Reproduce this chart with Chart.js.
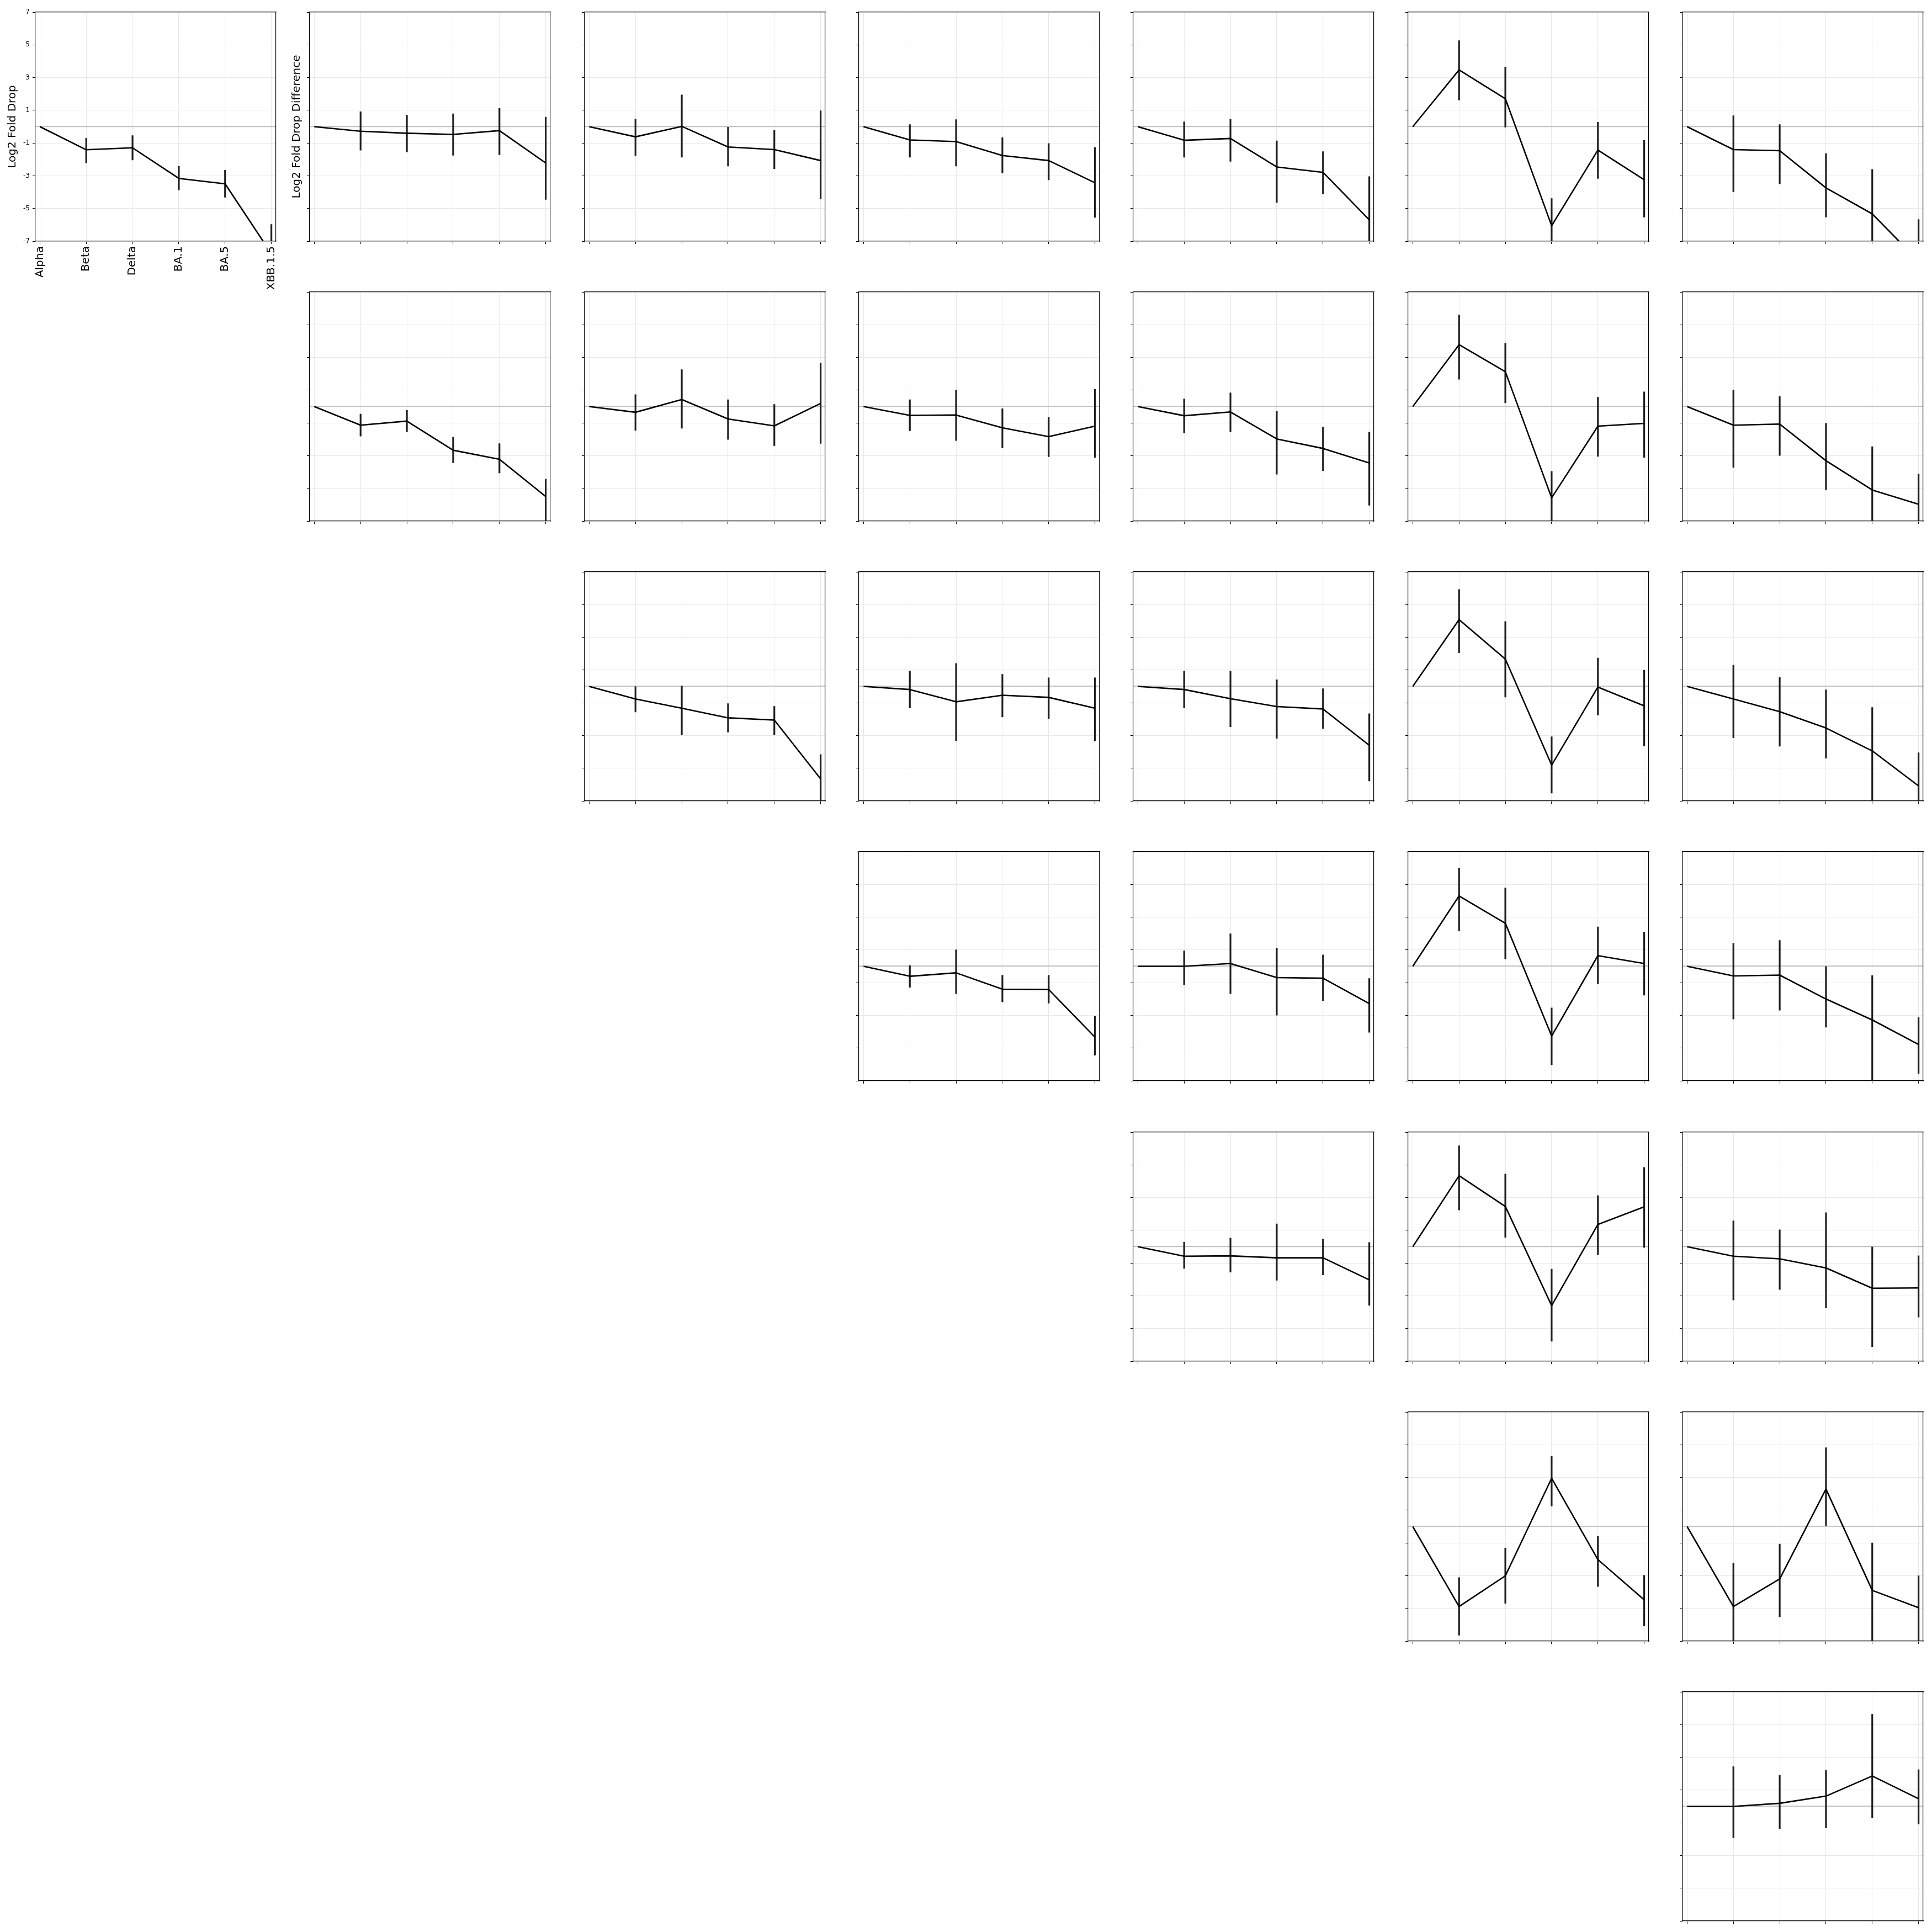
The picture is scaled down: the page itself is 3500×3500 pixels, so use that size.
<!DOCTYPE html>
<html>
<head>
<meta charset="utf-8">
<script src="https://cdn.jsdelivr.net/npm/chart.js@4.4.1/dist/chart.umd.min.js"></script>
<style>
html, body { margin: 0; padding: 0; background: #ffffff; }
#fig { position: relative; width: 3500px; height: 3500px; background: #ffffff; overflow: hidden; }
#fig canvas { position: absolute; }
</style>
</head>
<body>
<div id="fig"></div>
<script>
// ---------------- data ----------------
const variants = ['Alpha', 'Beta', 'Delta', 'BA.1', 'BA.5', 'XBB.1.5'];
const yTickValues = [-7, -5, -3, -1, 1, 3, 5, 7];
const referenceLevel = 0;

// panel grid position (row, column), row-major over the upper triangle
const panelRows = [0,0,0,0,0,0,0, 1,1,1,1,1,1, 2,2,2,2,2, 3,3,3,3, 4,4,4, 5,5, 6];
const panelCols = [0,1,2,3,4,5,6, 1,2,3,4,5,6, 2,3,4,5,6, 3,4,5,6, 4,5,6, 5,6, 6];

// line values per panel
const panelValues = [
  [0, -1.41, -1.29, -3.16, -3.49, -7.76],
  [0, -0.28, -0.40, -0.47, -0.24, -2.22],
  [0, -0.62,  0.02, -1.24, -1.40, -2.07],
  [0, -0.81, -0.91, -1.76, -2.07, -3.43],
  [0, -0.83, -0.72, -2.46, -2.79, -5.70],
  [0,  3.47,  1.71, -6.05, -1.43, -3.24],
  [0, -1.40, -1.47, -3.74, -5.33, -8.21],
  [0, -1.14, -0.89, -2.67, -3.22, -5.50],
  [0, -0.35,  0.43, -0.76, -1.18,  0.19],
  [0, -0.54, -0.52, -1.30, -1.84, -1.20],
  [0, -0.56, -0.33, -1.98, -2.56, -3.45],
  [0,  3.78,  2.13, -5.58, -1.20, -1.03],
  [0, -1.14, -1.07, -3.31, -5.10, -5.97],
  [0, -0.77, -1.33, -1.92, -2.06, -5.65],
  [0, -0.19, -0.94, -0.54, -0.67, -1.33],
  [0, -0.19, -0.75, -1.23, -1.38, -3.60],
  [0,  4.08,  1.67, -4.81, -0.04, -1.19],
  [0, -0.77, -1.54, -2.54, -3.94, -6.08],
  [0, -0.61, -0.40, -1.40, -1.42, -4.33],
  [0,  0.00,  0.17, -0.69, -0.73, -2.28],
  [0,  4.30,  2.63, -4.26,  0.65,  0.17],
  [0, -0.59, -0.54, -2.00, -3.28, -4.78],
  [0, -0.58, -0.56, -0.68, -0.68, -2.03],
  [0,  4.34,  2.46, -3.60,  1.36,  2.44],
  [0, -0.58, -0.74, -1.30, -2.54, -2.52],
  [0, -4.89, -3.01,  2.95, -2.02, -4.48],
  [0, -4.89, -3.20,  2.29, -3.90, -4.96],
  [0,  0.00,  0.19,  0.63,  1.86,  0.47]
];

// lower end of each error bar (null = no bar)
const panelLower = [
  [null, -2.23, -2.05, -3.88, -4.33, -9.56],
  [null, -1.45, -1.56, -1.76, -1.73, -4.46],
  [null, -1.78, -1.88, -2.42, -2.58, -4.44],
  [null, -1.88, -2.42, -2.85, -3.26, -5.56],
  [null, -1.88, -2.13, -4.65, -4.13, -8.40],
  [null,  1.61, -0.04, -7.80, -3.18, -5.54],
  [null, -3.99, -3.51, -5.54, -8.20, -10.8],
  [null, -1.82, -1.55, -3.45, -4.07, -7.50],
  [null, -1.47, -1.34, -2.02, -2.40, -2.27],
  [null, -1.49, -2.09, -2.54, -3.08, -3.12],
  [null, -1.63, -1.55, -4.15, -3.93, -6.05],
  [null,  1.65,  0.21, -7.30, -3.06, -3.12],
  [null, -3.74, -3.00, -5.10, -8.00, -8.00],
  [null, -1.58, -2.98, -2.81, -2.96, -7.30],
  [null, -1.33, -3.33, -1.88, -1.98, -3.35],
  [null, -1.33, -2.48, -3.19, -2.58, -5.79],
  [null,  2.04, -0.67, -6.54, -1.77, -3.65],
  [null, -3.15, -3.67, -4.40, -7.10, -8.40],
  [null, -1.30, -1.69, -2.19, -2.27, -5.45],
  [null, -1.15, -1.69, -3.00, -2.11, -4.05],
  [null,  2.15,  0.44, -6.04, -1.09, -1.78],
  [null, -3.24, -2.70, -3.74, -7.10, -6.56],
  [null, -1.34, -1.57, -2.07, -1.74, -3.60],
  [null,  2.23,  0.56, -5.79, -0.50, -0.06],
  [null, -3.27, -2.63, -3.76, -6.12, -4.32],
  [null, -6.65, -4.71,  1.24, -3.68, -6.09],
  [null, -7.50, -5.53,  0.04, -7.10, -7.10],
  [null, -1.93, -1.37, -1.33, -0.70, -1.09]
];

// upper end of each error bar (null = no bar)
const panelUpper = [
  [null, -0.69, -0.53, -2.41, -2.65, -5.96],
  [null,  0.93,  0.72,  0.80,  1.14,  0.60],
  [null,  0.48,  1.96, -0.02, -0.21,  0.99],
  [null,  0.14,  0.45, -0.66, -1.01, -1.26],
  [null,  0.31,  0.48, -0.85, -1.51, -3.04],
  [null,  5.27,  3.66, -4.38,  0.29, -0.83],
  [null,  0.68,  0.14, -1.63, -2.60, -5.66],
  [null, -0.45, -0.21, -1.86, -2.25, -4.42],
  [null,  0.74,  2.27,  0.43,  0.14,  2.67],
  [null,  0.43,  1.01, -0.12, -0.64,  1.07],
  [null,  0.48,  0.85, -0.29, -1.24, -1.55],
  [null,  5.62,  3.88, -3.95,  0.58,  0.91],
  [null,  1.01,  0.62, -1.01, -2.44, -4.11],
  [null,  0.00,  0.04, -1.04, -1.21, -4.15],
  [null,  0.96,  1.42,  0.75,  0.54,  0.54],
  [null,  0.96,  0.96,  0.42, -0.13, -1.65],
  [null,  5.94,  3.98, -3.06,  1.75,  1.00],
  [null,  1.31,  0.56, -0.19, -1.27, -4.04],
  [null,  0.06,  1.02, -0.54, -0.54, -3.05],
  [null,  0.96,  2.00,  1.13,  0.71, -0.73],
  [null,  6.02,  4.81, -2.53,  2.42,  2.09],
  [null,  1.42,  1.59,  0.00, -0.56, -3.11],
  [null,  0.29,  0.54,  1.41,  0.48,  0.27],
  [null,  6.18,  4.45, -1.36,  3.14,  4.86],
  [null,  1.59,  1.05,  2.09,  0.00, -0.54],
  [null, -3.10, -1.30,  4.30, -0.58, -2.97],
  [null, -2.23, -1.05,  4.83, -0.99, -2.99],
  [null,  2.45,  1.92,  2.23,  5.64,  2.26]
];

const firstYLabel = 'Log2 Fold Drop';
const secondYLabel = 'Log2 Fold Drop Difference';

// ---------------- layout & style ----------------
const FONT = "'DejaVu Sans', 'Liberation Sans', sans-serif";
const PLOT_W = 436, PLOT_H = 415;
const GRID = '#e8e8e8';
const ZERO = '#c4c4c4';
const PAD_T = 14, PAD_R = 30;

function panelLeft(c) { return Math.round(64 + 497.3 * c); }
function panelTop(r) { return Math.round(21.5 + 507.3 * r); }

const fig = document.getElementById('fig');

panelRows.forEach((r, i) => {
  const c = panelCols[i];
  const isFirst = (r === 0 && c === 0);
  const isSecond = (r === 0 && c === 1);
  const YW = isFirst ? 64 : (isSecond ? 45 : 10);
  const XH = isFirst ? 100 : 10;

  const canvas = document.createElement('canvas');
  canvas.width = YW + PLOT_W + PAD_R;
  canvas.height = PAD_T + PLOT_H + XH;
  canvas.style.left = (panelLeft(c) - YW) + 'px';
  canvas.style.top = (panelTop(r) - PAD_T) + 'px';
  canvas.style.width = canvas.width + 'px';
  canvas.style.height = canvas.height + 'px';
  fig.appendChild(canvas);

  const lineData = variants.map((_, k) => ({ x: k, y: panelValues[i][k] }));
  const errData = [];
  variants.forEach((_, k) => {
    if (panelLower[i][k] === null) return;
    errData.push({ x: k, y: panelLower[i][k] }, { x: k, y: panelUpper[i][k] }, { x: k, y: null });
  });

  new Chart(canvas, {
    type: 'line',
    data: {
      datasets: [
        { data: errData, borderColor: '#1e1e1e', borderWidth: 3.2, pointRadius: 0, spanGaps: false,
          borderCapStyle: 'butt', tension: 0, clip: 0, order: 2 },
        { data: lineData, borderColor: '#000000', borderWidth: 2.6, pointRadius: 0, tension: 0,
          borderJoinStyle: 'round', clip: 0, order: 1 }
      ]
    },
    options: {
      responsive: false,
      animation: false,
      devicePixelRatio: 1,
      events: [],
      layout: { padding: { top: PAD_T, right: PAD_R, bottom: 0, left: 0 } },
      plugins: { legend: { display: false }, tooltip: { enabled: false } },
      scales: {
        x: {
          type: 'linear', position: 'bottom', min: -0.1, max: 5.1,
          afterBuildTicks: s => { s.ticks = variants.map((_, k) => ({ value: k })); },
          afterFit: s => { s.height = XH; },
          grid: { color: GRID, lineWidth: 1, tickColor: '#000', tickLength: 5, tickWidth: 1 },
          border: { display: true, color: '#000', width: 1.2 },
          ticks: { display: isFirst, autoSkip: false, minRotation: 90, maxRotation: 90, padding: 4,
                   color: '#000', font: { family: FONT, size: 20 },
                   callback: v => (variants[v] !== undefined ? variants[v] : '') }
        },
        y: {
          type: 'linear', position: 'left', min: -7, max: 7,
          afterBuildTicks: s => {
            s.ticks = yTickValues.concat([referenceLevel]).sort((a, b) => a - b).map(v => ({ value: v }));
          },
          afterFit: s => { s.width = YW; },
          grid: {
            color: ctx => (ctx.tick && ctx.tick.value === referenceLevel ? ZERO : GRID),
            lineWidth: ctx => (ctx.tick && ctx.tick.value === referenceLevel ? 2.2 : 1),
            tickColor: ctx => (ctx.tick && ctx.tick.value === referenceLevel ? 'rgba(0,0,0,0)' : '#000'),
            tickLength: 5, tickWidth: 1
          },
          border: { display: true, color: '#000', width: 1.2 },
          ticks: { display: isFirst, autoSkip: false, padding: 5, color: '#000',
                   font: { family: FONT, size: 12 },
                   callback: v => (v === referenceLevel ? '' : String(v)) },
          title: { display: isFirst || isSecond, text: isFirst ? firstYLabel : secondYLabel,
                   color: '#000', font: { family: FONT, size: 20 },
                   padding: { top: isFirst ? 11 : 10, bottom: 0 } }
        },
        x2: {
          type: 'linear', position: 'top', display: true, min: 0, max: 1,
          grid: { display: false, drawTicks: false }, ticks: { display: false },
          border: { display: true, color: '#000', width: 1.2 },
          afterFit: s => { s.height = 0; }
        },
        y2: {
          type: 'linear', position: 'right', display: true, min: 0, max: 1,
          grid: { display: false, drawTicks: false }, ticks: { display: false },
          border: { display: true, color: '#000', width: 1.2 },
          afterFit: s => { s.width = 0; }
        }
      }
    }
  });
});
</script>
</body>
</html>
